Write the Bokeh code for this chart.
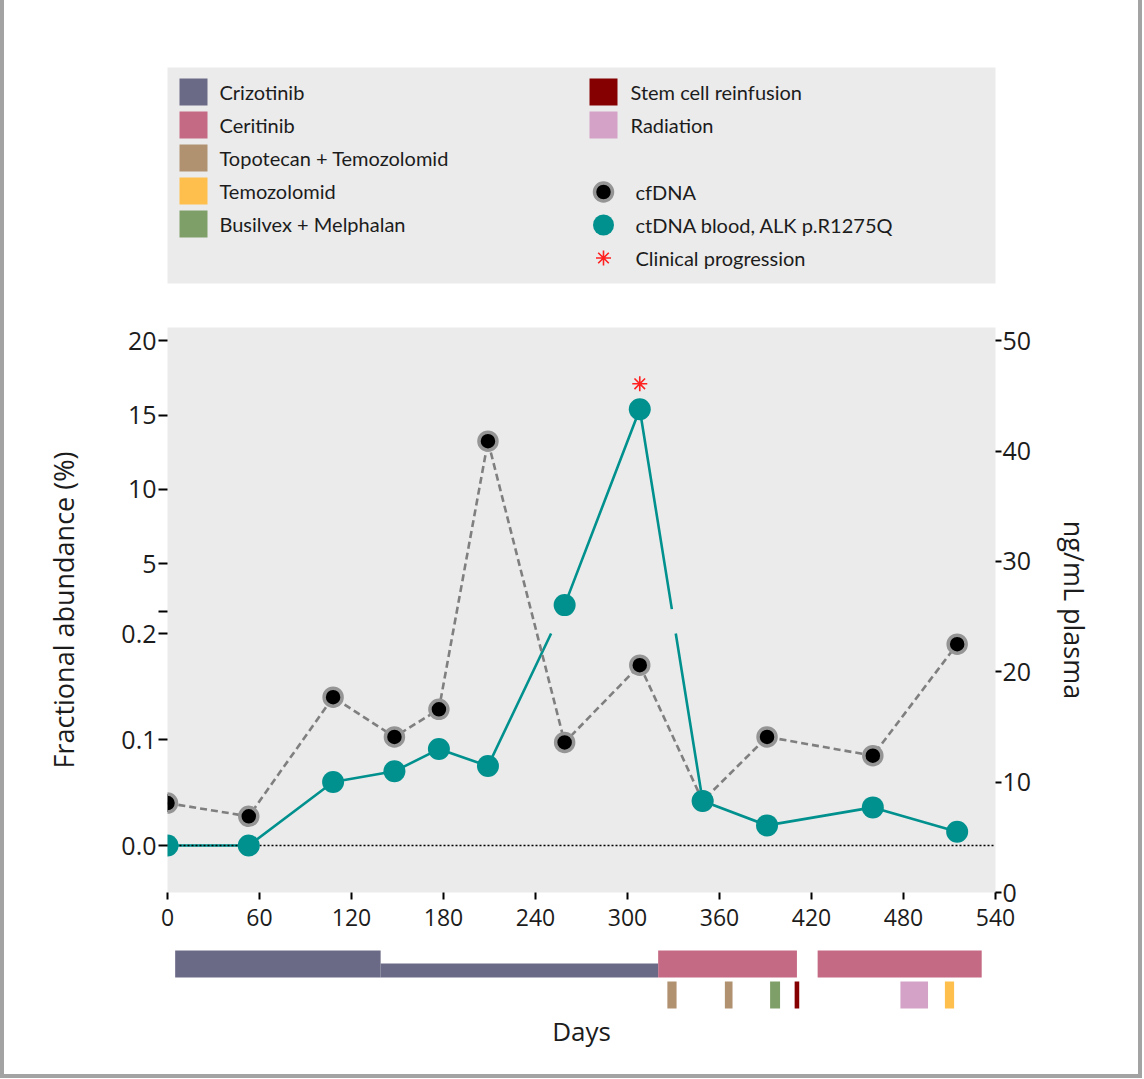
import numpy as np
from bokeh.plotting import figure
from bokeh.models import Range1d, LinearAxis, FixedTicker, Span
from bokeh.layouts import column
from bokeh.embed import file_html
from bokeh.resources import INLINE
from bokeh.core.properties import value

# ---------------- data ----------------
days = [0, 53, 108, 148, 177, 209, 259, 308, 349, 391, 460, 515]
cfdna_ng_ml = [8.1, 6.9, 17.7, 14.1, 16.6, 40.9, 13.6, 20.6, 8.3, 14.1, 12.4, 22.5]
ctdna_pct = [0.0, 0.0, 0.060, 0.070, 0.091, 0.075, 2.2, 15.4, 0.042, 0.019, 0.036, 0.013]
progression_days = [308]

x_ticks = [0, 60, 120, 180, 240, 300, 360, 420, 480, 540]
frac_ticks = [0.0, 0.1, 0.2, 5, 10, 15, 20]
frac_labels = ["0.0", "0.1", "0.2", "5", "10", "15", "20"]
ng_ticks = [0, 10, 20, 30, 40, 50]

treat_names = ["Crizotinib", "Crizotinib", "Ceritinib", "Ceritinib",
               "Topotecan + Temozolomid", "Topotecan + Temozolomid",
               "Busilvex + Melphalan", "Stem cell reinfusion", "Radiation", "Temozolomid"]
treat_start = [5, 139, 320, 424, 326, 363.5, 393, 409, 478, 507]
treat_end = [139, 320, 410.5, 531, 332, 368.5, 399.5, 412, 496, 513]
treat_track = ["full", "half", "full", "full", "sub", "sub", "sub", "sub", "sub", "sub"]

legend_left = ["Crizotinib", "Ceritinib", "Topotecan + Temozolomid", "Temozolomid", "Busilvex + Melphalan"]
legend_right = ["Stem cell reinfusion", "Radiation"]
legend_markers = ["cfDNA", "ctDNA blood, ALK p.R1275Q", "Clinical progression"]

# ---------------- styles ----------------
COLORS = {
    "Crizotinib": "#6b6a86",
    "Ceritinib": "#c56a84",
    "Topotecan + Temozolomid": "#b09271",
    "Temozolomid": "#ffbf4c",
    "Busilvex + Melphalan": "#7f9f69",
    "Stem cell reinfusion": "#850000",
    "Radiation": "#d3a2c6",
}
TEAL = "#00918e"
PANEL = "#ebebeb"
AXFONT = "Open Sans"
LEGFONT = "Lato"
TXT = "#1c1c1c"

# broken left axis: lower segment 0-0.2 %, upper segment 5-20 %
BREAK_PCT = 0.2
LOW_SCALE = 1000.0
UP_OFFSET, UP_SCALE = 196.0, 14.0
GAP_LO, GAP_HI = 200.0, 223.0
BREAK_MARK = 221


def frac_axis(pct):
    return pct * LOW_SCALE if pct <= BREAK_PCT else UP_OFFSET + UP_SCALE * pct


ct_v = [frac_axis(v) for v in ctdna_pct]

# teal line with a gap where it crosses the axis break
lx, ly = [days[0]], [ct_v[0]]
for i in range(len(days) - 1):
    x0, v0, x1, v1 = days[i], ct_v[i], days[i + 1], ct_v[i + 1]
    if (v0 <= GAP_LO and v1 >= GAP_HI) or (v0 >= GAP_HI and v1 <= GAP_LO):
        ta = (GAP_LO - v0) / (v1 - v0)
        tb = (GAP_HI - v0) / (v1 - v0)
        t1, t2 = min(ta, tb), max(ta, tb)
        lx += [x0 + t1 * (x1 - x0), np.nan, x0 + t2 * (x1 - x0)]
        ly += [v0 + t1 * (v1 - v0), np.nan, v0 + t2 * (v1 - v0)]
    lx.append(x1)
    ly.append(v1)
lx, ly = np.array(lx, dtype=float), np.array(ly, dtype=float)

W = 1134
BL, BR = 163, 143

# ---------------- legend figure ----------------
leg = figure(width=W, height=308, x_range=Range1d(0, 828), y_range=Range1d(0, 216),
             min_border_left=BL, min_border_right=BR, min_border_top=67, min_border_bottom=25,
             x_axis_location=None, y_axis_location=None, toolbar_location=None,
             background_fill_color=PANEL, outline_line_color=None, output_backend="svg")
leg.grid.visible = False
PITCH = 33.0
TOPROW = 191.5
SW = 28
SH = 27
LFS = "20px"
ly_left = [TOPROW - i * PITCH for i in range(len(legend_left))]
leg.quad(left=[12] * len(legend_left), right=[12 + SW] * len(legend_left),
         top=[y + SH / 2 for y in ly_left], bottom=[y - SH / 2 for y in ly_left],
         fill_color=[COLORS[n] for n in legend_left], line_color=None)
leg.text(x=[52] * len(legend_left), y=ly_left, text=legend_left, text_baseline="middle",
         text_font=value(LEGFONT), text_font_size=LFS, text_color=TXT)
ly_right = [TOPROW - i * PITCH for i in range(len(legend_right))]
leg.quad(left=[422] * len(legend_right), right=[422 + SW] * len(legend_right),
         top=[y + SH / 2 for y in ly_right], bottom=[y - SH / 2 for y in ly_right],
         fill_color=[COLORS[n] for n in legend_right], line_color=None)
leg.text(x=[463] * len(legend_right), y=ly_right, text=legend_right, text_baseline="middle",
         text_font=value(LEGFONT), text_font_size=LFS, text_color=TXT)
ly_mk = [TOPROW - (i + 3) * PITCH - 1 for i in range(len(legend_markers))]
leg.scatter(x=[436], y=[ly_mk[0]], size=18, fill_color="black", line_color="#959595", line_width=3.5)
leg.scatter(x=[436], y=[ly_mk[1]], size=21, fill_color=TEAL, line_color=None)
leg.scatter(x=[436], y=[ly_mk[2]], marker="asterisk", size=15, line_color="#ff2020", line_width=1.6)
leg.text(x=[468] * len(legend_markers), y=ly_mk, text=legend_markers, text_baseline="middle",
         text_font=value(LEGFONT), text_font_size=LFS, text_color=TXT)

# ---------------- main figure ----------------
p = figure(width=W, height=634, x_range=Range1d(0, 540), y_range=Range1d(0, 51.2),
           x_axis_location="below", y_axis_location=None, toolbar_location=None,
           min_border_left=BL, min_border_right=BR, min_border_top=19, min_border_bottom=50,
           background_fill_color=PANEL, outline_line_color=None, output_backend="svg")
p.grid.visible = False
p.extra_y_ranges = {"frac": Range1d(-44.3, 488.7)}

xa = p.xaxis[0]
xa.ticker = FixedTicker(ticks=x_ticks)
xa.axis_line_color = None
xa.major_tick_in = 0
xa.major_tick_out = 7
xa.major_tick_line_width = 2
xa.major_tick_line_color = "black"
xa.minor_tick_line_color = None
xa.major_label_standoff = 9
xa.major_label_text_font = AXFONT
xa.major_label_text_font_size = "23px"
xa.major_label_text_color = TXT

frac_tick_pos = [int(round(frac_axis(t))) for t in frac_ticks]
left = LinearAxis(y_range_name="frac",
                  ticker=FixedTicker(ticks=frac_tick_pos, minor_ticks=[BREAK_MARK]),
                  major_label_overrides={k: lab for k, lab in zip(frac_tick_pos, frac_labels)},
                  axis_label="Fractional abundance (%)")
right = LinearAxis(ticker=FixedTicker(ticks=ng_ticks), axis_label="ng/mL plasma")
for ax in (left, right):
    ax.axis_line_color = None
    ax.major_tick_in = 0
    ax.major_tick_line_width = 2
    ax.major_tick_line_color = "black"
    ax.major_label_text_font = AXFONT
    ax.major_label_text_font_size = "25px"
    ax.major_label_text_color = TXT
    ax.axis_label_text_font = AXFONT
    ax.axis_label_text_font_size = "27px"
    ax.axis_label_text_font_style = "normal"
    ax.axis_label_text_color = TXT
left.major_tick_out = 9
left.minor_tick_in = 0
left.minor_tick_out = 9
left.minor_tick_line_width = 2
left.minor_tick_line_color = "black"
left.major_label_standoff = 2
left.axis_label_standoff = 36
right.major_tick_out = 6
right.minor_tick_line_color = None
right.major_label_standoff = 1
right.axis_label_standoff = 22
p.add_layout(left, "left")
p.add_layout(right, "right")

p.line(lx, ly, y_range_name="frac", line_color=TEAL, line_width=2.6)
p.line(days, cfdna_ng_ml, line_color="#7f7f7f", line_width=2.6, line_dash="7 4")
p.renderers.append(Span(location=0, dimension="width", y_range_name="frac", level="glyph",
                        line_color="black", line_dash="2 2", line_width=1.6))
p.scatter(days, cfdna_ng_ml, size=18, fill_color="black", line_color="#959595", line_width=3.5)
p.scatter(days, ct_v, y_range_name="frac", size=22, fill_color=TEAL, line_color=None)
prog_v = [ct_v[days.index(d)] + 24 for d in progression_days]
p.scatter(progression_days, prog_v, y_range_name="frac", marker="asterisk", size=15,
          line_color="#ff2020", line_width=1.6)

# ---------------- treatment bars ----------------
b = figure(width=W, height=132, x_range=p.x_range, y_range=Range1d(0, 67),
           x_axis_location="below", y_axis_location=None, toolbar_location=None,
           min_border_left=BL, min_border_right=BR, min_border_top=3, min_border_bottom=62,
           outline_line_color=None, output_backend="svg")
b.grid.visible = False
TRACK = {"full": (62, 35), "half": (49, 35), "sub": (31, 4)}
b.quad(left=treat_start, right=treat_end,
       top=[TRACK[t][0] for t in treat_track], bottom=[TRACK[t][1] for t in treat_track],
       fill_color=[COLORS[n] for n in treat_names], line_color=None)
bx = b.xaxis[0]
bx.ticker = FixedTicker(ticks=[])
bx.axis_line_color = None
bx.major_tick_line_color = None
bx.minor_tick_line_color = None
bx.axis_label = "Days"
bx.axis_label_standoff = 0
bx.axis_label_text_font = AXFONT
bx.axis_label_text_font_size = "26px"
bx.axis_label_text_font_style = "normal"
bx.axis_label_text_color = TXT

layout = column(leg, p, b, spacing=0,
                styles={"border-left": "4px solid #a3a3a3", "border-right": "4px solid #a3a3a3",
                        "border-bottom": "4px solid #a3a3a3"})

open("out.html", "w").write(file_html(layout, INLINE))
